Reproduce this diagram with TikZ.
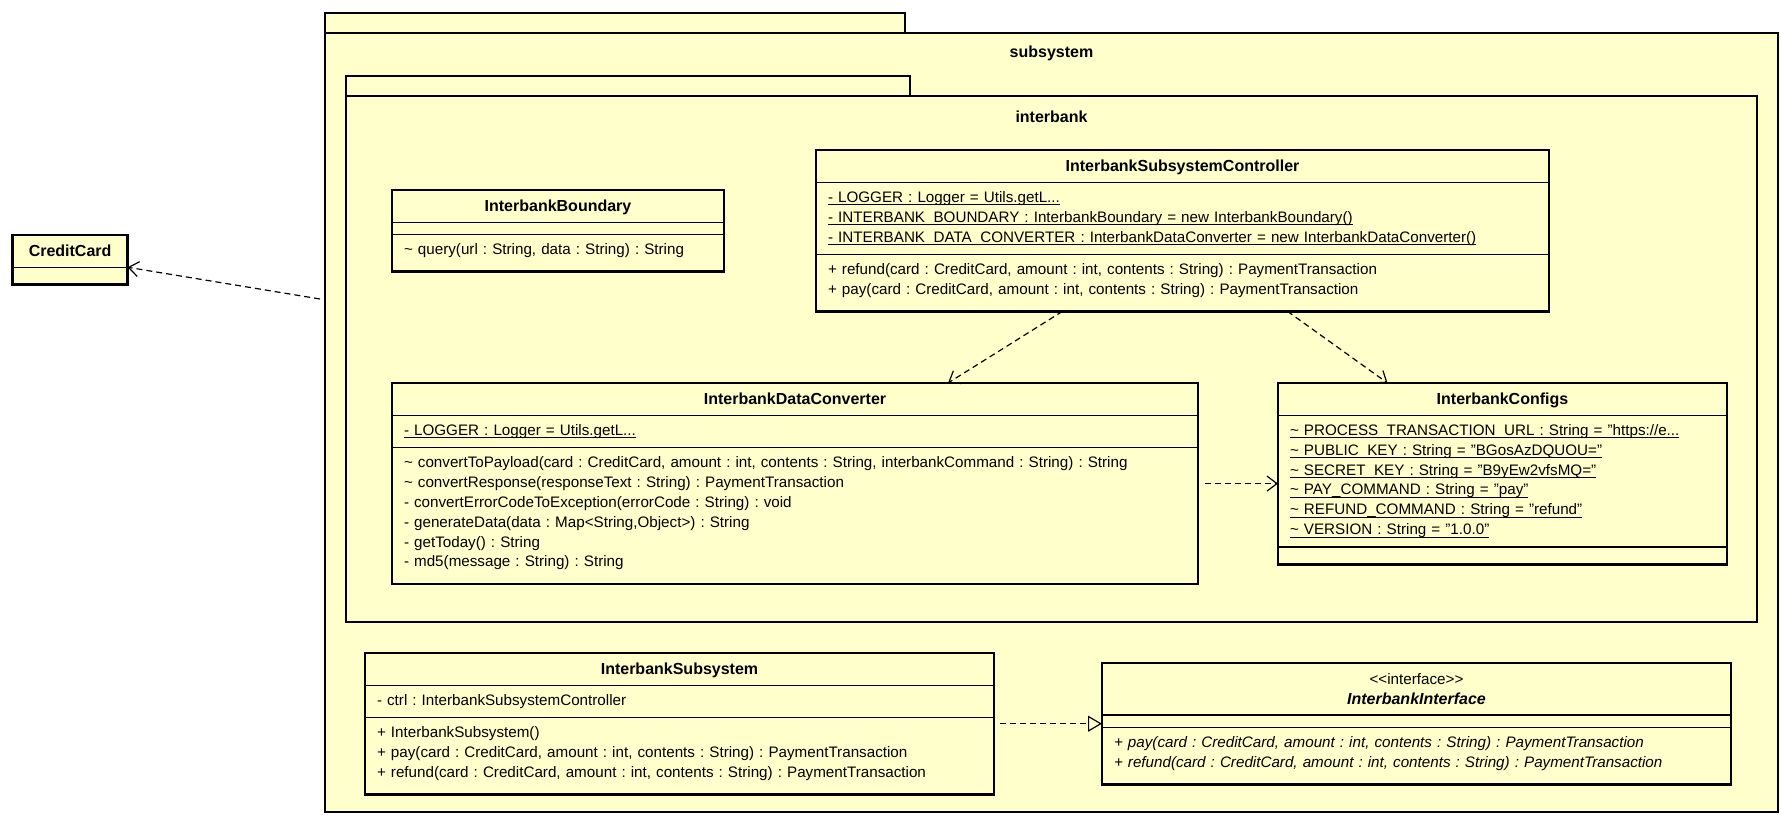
\documentclass[tikz,border=0pt]{standalone}
\usepackage{fontspec}
\setmainfont{Liberation Sans}
\usetikzlibrary{shapes.multipart,arrows.meta}

\definecolor{classfill}{HTML}{FFFFCC}
\newcommand{\mem}[1]{\mbox{\strut#1}}
\newcommand{\ctitle}[1]{\makebox[\hsize]{\strut\raisebox{-1.5pt}{#1}}}
\newcommand{\ulstatic}[1]{\setbox0\hbox{#1}\rlap{\rule[-3pt]{\wd0}{1.2pt}}\box0}
\newcommand{\lastpad}{\rule[-11pt]{0pt}{11pt}}
\newcommand{\tld}{\textasciitilde}
\newcommand{\titlefont}{\fontsize{16}{19.9}\selectfont\bfseries}

\tikzset{
	umlclass/.style={rectangle split, rectangle split parts=3, draw, line width=1.3pt,
		fill=classfill, anchor=north west, inner xsep=12pt, inner ysep=5.5pt, outer sep=0pt,
		align=left, rectangle split empty part height=0pt, rectangle split empty part depth=0pt,
		font=\fontsize{15.2}{19.9}\selectfont\frenchspacing},
	frame/.style={line width=2.7pt},
	pkgbox/.style={draw, line width=2.7pt, fill=classfill, anchor=north west, inner sep=0pt, outer sep=0pt},
	pkgtitle/.style={font=\titlefont, inner sep=0pt},
	dep/.style={line width=1.2pt, dash pattern=on 6pt off 4pt, -{Straight Barb[length=10pt,width=15pt]}},
	realize/.style={line width=1.2pt, dash pattern=on 6pt off 4pt, -{Triangle[open,length=14pt,width=16pt]}}
}

\begin{document}
\begin{tikzpicture}[x=1pt,y=-1pt]
	\useasboundingbox (0,0) rectangle (1781,820);

	% packages
	\node[pkgbox, minimum width=580pt, minimum height=20pt] (subsystab) at (325,13) {};
	\node[pkgbox, minimum width=1453pt, minimum height=779pt] (subsys) at (325,33) {};
	\node[pkgtitle] (subsysname) at ([yshift=-20pt]subsys.north) {subsystem};
	\node[pkgbox, minimum width=564pt, minimum height=20pt] (ibanktab) at (346,76) {};
	\node[pkgbox, minimum width=1411pt, minimum height=526pt] (ibank) at (346,96) {};
	\node[pkgtitle] (ibankname) at ([yshift=-20.5pt]ibank.north) {interbank};

	% classes
	\node[umlclass, rectangle split parts=2, text width=91pt] (card) at (12.6,235)
		{\ctitle{\titlefont CreditCard}\nodepart{two}\rule{0pt}{5pt}};

	\node[umlclass, text width=308pt] (bound) at (392,190)
		{\ctitle{\titlefont InterbankBoundary}
		\nodepart{two}
		\nodepart{three}\mem{\tld{} query(url : String, data : String) : String}\lastpad};

	\node[umlclass, text width=709pt] (ctrl) at (816,150)
		{\ctitle{\titlefont InterbankSubsystemController}
		\nodepart{two}
		\mem{\ulstatic{- LOGGER : Logger = Utils.getL...}}\\
		\mem{\ulstatic{- INTERBANK\_BOUNDARY : InterbankBoundary = new InterbankBoundary()}}\\
		\mem{\ulstatic{- INTERBANK\_DATA\_CONVERTER : InterbankDataConverter = new InterbankDataConverter()}}
		\nodepart{three}
		\mem{+ refund(card : CreditCard, amount : int, contents : String) : PaymentTransaction}\\
		\mem{+ pay(card : CreditCard, amount : int, contents : String) : PaymentTransaction}\lastpad};

	\node[umlclass, text width=782pt] (conv) at (392,383)
		{\ctitle{\titlefont InterbankDataConverter}
		\nodepart{two}
		\mem{\ulstatic{- LOGGER : Logger = Utils.getL...}}
		\nodepart{three}
		\mem{\tld{} convertToPayload(card : CreditCard, amount : int, contents : String, interbankCommand : String) : String}\\
		\mem{\tld{} convertResponse(responseText : String) : PaymentTransaction}\\
		\mem{- convertErrorCodeToException(errorCode : String) : void}\\
		\mem{- generateData(data : Map<String,Object>) : String}\\
		\mem{- getToday() : String}\\
		\mem{- md5(message : String) : String}\lastpad};

	\node[umlclass, text width=425pt] (cfg) at (1278,383)
		{\ctitle{\titlefont InterbankConfigs}
		\nodepart{two}
		\mem{\ulstatic{\tld{} PROCESS\_TRANSACTION\_URL : String = "https://e...}}\\
		\mem{\ulstatic{\tld{} PUBLIC\_KEY : String = "BGosAzDQUOU="}}\\
		\mem{\ulstatic{\tld{} SECRET\_KEY : String = "B9yEw2vfsMQ="}}\\
		\mem{\ulstatic{\tld{} PAY\_COMMAND : String = "pay"}}\\
		\mem{\ulstatic{\tld{} REFUND\_COMMAND : String = "refund"}}\\
		\mem{\ulstatic{\tld{} VERSION : String = "1.0.0"}}
		\nodepart{three}\rule{0pt}{5pt}};

	\node[umlclass, text width=605pt] (isub) at (365,653)
		{\ctitle{\titlefont InterbankSubsystem}
		\nodepart{two}
		\mem{- ctrl : InterbankSubsystemController}
		\nodepart{three}
		\mem{+ InterbankSubsystem()}\\
		\mem{+ pay(card : CreditCard, amount : int, contents : String) : PaymentTransaction}\\
		\mem{+ refund(card : CreditCard, amount : int, contents : String) : PaymentTransaction}\lastpad};

	\node[umlclass, text width=605pt] (iface) at (1102,663)
		{\ctitle{\textless\kern0pt\textless interface\textgreater\kern0pt\textgreater}\\
		\ctitle{\titlefont\itshape InterbankInterface}
		\nodepart{two}
		\nodepart{three}\itshape
		\mem{+ pay(card : CreditCard, amount : int, contents : String) : PaymentTransaction}\\
		\mem{+ refund(card : CreditCard, amount : int, contents : String) : PaymentTransaction}\lastpad};

	\foreach \c in {card,bound,ctrl,conv,cfg,isub,iface}
		\draw[frame] (\c.north west) rectangle (\c.south east);

	% relations
	\coordinate (subsysout) at (320,299);
	\draw[dep] (subsysout) -- ([yshift=-7.5pt]card.east);
	\draw[dep] ([xshift=-120pt]ctrl.south) -- ([xshift=153pt]conv.north);
	\draw[dep] ([xshift=105pt]ctrl.south) -- ([xshift=-115pt]cfg.north);
	\draw[dep] ([xshift=7pt]conv.east) -- (conv.east -| cfg.west);
	\draw[realize] ([xshift=6pt]isub.east) -- (isub.east -| iface.west);
\end{tikzpicture}
\end{document}
